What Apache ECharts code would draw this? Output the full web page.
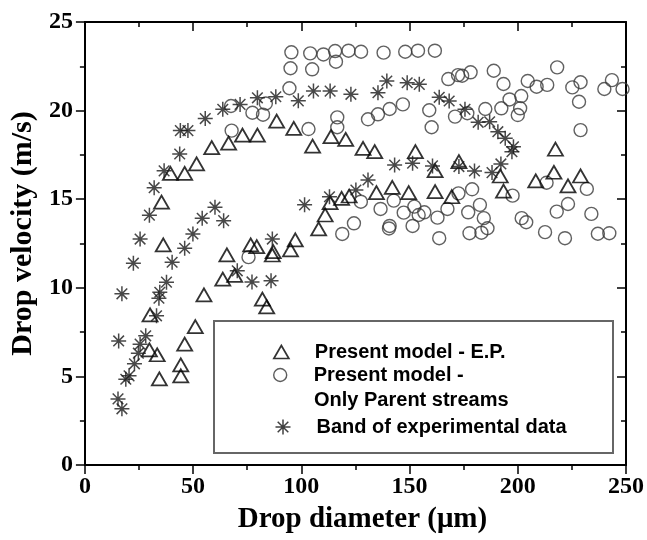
<!DOCTYPE html>
<html>
<head>
<meta charset="utf-8">
<script src="https://cdn.jsdelivr.net/npm/echarts@6/dist/echarts.min.js"></script>
<style>html,body{margin:0;padding:0;background:#fff;}#c{width:647px;height:540px;}</style>
</head>
<body>
<div id="c"></div>
<script>
// Present model - E.P. (triangles) [diameter um, velocity m/s]
const epPoints = [
  [29.8,6.5],[30.1,8.47],[33.4,6.22],[34.4,4.86],[36.2,12.42],[35.4,14.83],[44.3,5.03],[44.3,5.65],
  [46.1,6.82],[51.0,7.81],[55.0,9.6],[63.7,10.49],[65.6,11.86],[69.2,10.7],[76.6,12.42],[79.4,12.32],
  [82.0,9.36],[84.0,8.92],[87.0,12.04],[86.6,11.85],[95.0,12.14],[97.2,12.7],[108,13.33],[111,14.11],
  [113.3,14.81],[118.6,15.05],[122.1,15.18],[134.7,15.37],[142,15.67],[149.6,15.37],[161.8,15.43],
  [169.5,15.14],[193.4,15.46],[208.3,16.03],[223.2,15.75],[216.7,16.52],[229,16.31],[191.9,16.31],
  [161.8,16.61],[172.8,17.12],[217.4,17.82],
  [39.5,16.46],[46.1,16.46],[51.6,16.99],[58.6,17.91],[66.4,18.16],[72.8,18.62],[79.7,18.62],
  [88.6,19.41],[96.5,19.0],[105.2,18.0],[113.7,18.53],[120.5,18.38],[128.5,17.87],[133.9,17.68],[152.7,17.68]
];
// Present model - Only Parent streams (circles)
const parentPoints = [
  [67.5,20.26],[67.8,18.87],[75.6,11.73],[77.4,19.88],[82.3,19.77],[83.6,20.4],[94.5,21.26],[95,22.39],
  [95.4,23.29],[103.3,18.96],[104.1,23.23],[105,22.33],[110.2,23.17],[115.6,23.36],[116,22.76],[116.6,19.62],
  [116.6,19.06],[121.8,23.38],[127.6,23.32],[130.8,19.51],[135.4,19.79],[138,23.27],[140.8,20.09],[146.9,20.35],
  [148,23.32],[153.9,23.38],[159.1,20.02],[160.2,19.06],[161.7,23.38],[167.9,21.78],[171,19.66],[172.4,22.0],
  [174.3,21.97],[176.7,19.85],[178.2,22.16],[185,20.09],[188.9,22.25],[192.4,20.13],[193.4,21.5],[196.2,20.63],
  [200,19.75],[201.1,20.13],[201.6,20.82],[204.6,21.67],[208.7,21.35],[213.6,21.45],[218.2,22.44],[225.2,21.31],
  [228.3,20.5],[229,21.6],[229,18.9],[240,21.22],[243.5,21.72],[248.4,21.22],
  [118.9,13.04],[124.3,13.64],[127.5,14.86],[136.6,14.45],[140.8,13.49],[140.5,13.35],[142.7,14.92],[147.3,14.24],
  [151.4,13.49],[152.2,14.58],[154.2,14.11],[156.8,14.26],[162.9,13.96],[163.7,12.8],[167.5,14.45],[172.6,15.33],
  [177.1,14.26],[177.7,13.08],[178.9,15.56],[182.5,14.68],[183.2,13.11],[184.3,13.93],[186,13.36],[197.6,15.2],
  [201.8,13.93],[203.9,13.7],[212.6,13.14],[213.3,15.93],[218,14.3],[221.8,12.8],[223.2,14.73],[231.9,15.58],
  [234,14.17],[237,13.05],[242.3,13.08]
];
// Band of experimental data (stars)
const expPoints = [
  [15.6,7.0],[17.1,9.66],[22.4,11.39],[25.5,12.75],[29.8,14.1],[32,15.65],[36.6,16.6],[43.8,17.55],
  [44.1,18.87],[47.6,18.87],[55.6,19.55],[63.7,20.07],[71.7,20.35],[79.7,20.72],[88.2,20.78],[98.6,20.55],
  [105.6,21.1],[113.3,21.1],[122.9,20.92],[135.4,21.01],[139.5,21.67],[148.9,21.57],[154.5,21.48],[163.7,20.75],
  [168.3,20.54],[175.6,20.07],[181.7,19.34],[187,19.37],[190.8,18.81],[194.2,18.44],[198,17.96],[197.3,17.68],
  [15.3,3.73],[17.1,3.17],[18.9,4.84],[20.4,5.03],[22.9,5.71],[24.7,6.31],[25.5,6.82],[28.1,7.29],
  [33.1,8.42],[34.2,9.41],[34.6,9.75],[37.7,10.32],[40.3,11.44],[46.1,12.23],[49.9,13.04],[54.2,13.92],
  [60.1,14.55],[64.1,13.79],[70.4,10.96],[77.2,10.33],[86.0,10.4],[86.6,12.75],[101.5,14.68],[113,15.14],
  [125.2,15.52],[130.8,16.09],[143.1,16.93],[151.4,17.03],[160.6,16.88],[172.8,16.84],[180,16.59],[188.1,16.5],
  [192.2,16.99]
];
const seriesNames = ['Present model - E.P.', 'Present model -', 'Band of experimental data'];
const legendSecondLine = 'Only Parent streams';
const xTitle = 'Drop diameter (\u03bcm)';
const yTitle = 'Drop velocity (m/s)';

const starPath = 'path://M0,5L10,5M5,0L5,10M1.46,1.46L8.54,8.54M8.54,1.46L1.46,8.54';
const serif = '"Liberation Serif","Times New Roman",serif';
const sans = '"Liberation Sans",Arial,sans-serif';

const chart = echarts.init(document.getElementById('c'), null, {renderer:'canvas'});
const axisCommonX = {
  type:'value', min:0, max:250, interval:50,
  axisLine:{show:true, onZero:false, lineStyle:{color:'#000', width:2}},
  splitLine:{show:false}
};
const axisCommonY = {
  type:'value', min:0, max:25, interval:5,
  axisLine:{show:true, onZero:false, lineStyle:{color:'#000', width:2}},
  splitLine:{show:false}
};
const legendBase = {
  orient:'vertical', left:273, itemWidth:15, itemHeight:13, padding:0,
  selectedMode:false,
  textStyle:{fontFamily:sans, fontWeight:'bold', fontSize:20, color:'#000', lineHeight:20, padding:[0,0,0,21]}
};
chart.setOption({
  animation:false,
  backgroundColor:'#fff',
  grid:{left:83, right:19, top:22, bottom:75, containLabel:false},
  xAxis:[
    Object.assign({}, axisCommonX, {
      position:'bottom',
      axisTick:{show:true, inside:false, length:9, lineStyle:{color:'#000', width:1.5}},
      minorTick:{show:true, splitNumber:2, length:5, lineStyle:{color:'#000', width:1.5}},
      axisLabel:{margin:10, fontFamily:serif, fontWeight:'bold', fontSize:24, color:'#000'},
      name:xTitle, nameLocation:'middle', nameGap:40,
      nameTextStyle:{fontFamily:serif, fontWeight:'bold', fontSize:29, color:'#000', padding:[0,0,0,14]}
    }),
    Object.assign({}, axisCommonX, {
      position:'top',
      axisTick:{show:true, inside:true, length:9, lineStyle:{color:'#000', width:1.5}},
      minorTick:{show:true, splitNumber:2, length:5, lineStyle:{color:'#000', width:1.5}},
      axisLabel:{show:false}
    })
  ],
  yAxis:[
    Object.assign({}, axisCommonY, {
      position:'left',
      axisTick:{show:true, inside:false, length:9, lineStyle:{color:'#000', width:1.5}},
      minorTick:{show:true, splitNumber:2, length:5, lineStyle:{color:'#000', width:1.5}},
      axisLabel:{margin:12, fontFamily:serif, fontWeight:'bold', fontSize:24, color:'#000'},
      name:yTitle, nameLocation:'middle', nameGap:46, nameRotate:90,
      nameTextStyle:{fontFamily:serif, fontWeight:'bold', fontSize:30, color:'#000', padding:[0,0,0,20]}
    }),
    Object.assign({}, axisCommonY, {
      position:'right',
      axisTick:{show:true, inside:true, length:9, lineStyle:{color:'#000', width:1.5}},
      minorTick:{show:true, splitNumber:2, length:5, lineStyle:{color:'#000', width:1.5}},
      axisLabel:{show:false}
    })
  ],
  legend:[
    Object.assign({}, legendBase, {top:342, data:[{name:seriesNames[0], icon:'triangle',
      itemStyle:{color:'rgba(0,0,0,0)', borderColor:'#000', borderWidth:1.7}}]}),
    Object.assign({}, legendBase, {top:365, data:[{name:seriesNames[1], icon:'circle',
      itemStyle:{color:'rgba(0,0,0,0)', borderColor:'#333', borderWidth:1.4}}]}),
    Object.assign({}, legendBase, {top:417, itemHeight:15, data:[{name:seriesNames[2], icon:starPath,
      itemStyle:{color:'none', borderColor:'#111', borderWidth:1.5}}]})
  ],
  graphic:[
    {type:'rect', shape:{x:214, y:321, width:399, height:132},
     style:{fill:'none', stroke:'#666', lineWidth:2}, z:-1},
    {type:'text', x:314, y:400, style:{text:legendSecondLine, font:'bold 20px "Liberation Sans", Arial, sans-serif',
      fill:'#000', textVerticalAlign:'middle', verticalAlign:'middle'}}
  ],
  series:[
    {name:seriesNames[0], type:'scatter', xAxisIndex:0, yAxisIndex:0, data:epPoints,
     symbol:'triangle', symbolSize:[15,13],
     itemStyle:{color:'rgba(0,0,0,0)', borderColor:'#000', borderWidth:1.8}, z:3},
    {name:seriesNames[1], type:'scatter', xAxisIndex:0, yAxisIndex:0, data:parentPoints,
     symbol:'circle', symbolSize:13,
     itemStyle:{color:'rgba(0,0,0,0)', borderColor:'#3a3a3a', borderWidth:1.4}, z:2},
    {name:seriesNames[2], type:'scatter', xAxisIndex:0, yAxisIndex:0, data:expPoints,
     symbol:starPath, symbolSize:15,
     itemStyle:{color:'none', borderColor:'#1a1a1a', borderWidth:1.5}, z:4}
  ]
});
</script>
</body>
</html>
